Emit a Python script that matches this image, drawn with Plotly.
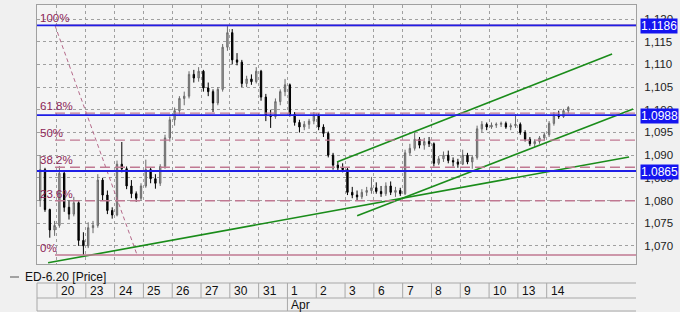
import plotly.graph_objects as go

# ---------------- data ----------------
day_labels = ["20", "23", "24", "25", "26", "27", "30", "31", "1", "2",
              "3", "6", "7", "8", "9", "10", "13", "14"]
month_labels = {8: "Apr"}
bars_per_day = [4] + [6] * 17 + [5]   # first partial day (19 Mar) ... last day 14 Apr

opens = [
    1.0800, 1.0868, 1.0780, 1.0735,
    1.0745, 1.0860, 1.0785, 1.0770, 1.0795, 1.0712,
    1.0700, 1.0740, 1.0745, 1.0845, 1.0812, 1.0778,
    1.0768, 1.0880, 1.0870, 1.0832, 1.0815, 1.0805,
    1.0832, 1.0868, 1.0848, 1.0838, 1.0875, 1.0938,
    1.0978, 1.0998, 1.1025, 1.1030, 1.1078, 1.1070,
    1.1085, 1.1048, 1.1040, 1.1015, 1.1045, 1.1138,
    1.1170, 1.1110, 1.1105, 1.1058, 1.1068, 1.1062,
    1.1085, 1.1028, 1.0988, 1.0985, 1.1018, 1.1040,
    1.1055, 1.0990, 1.0972, 1.0962, 1.0968, 1.0975,
    1.0988, 1.0962, 1.0948, 1.0900, 1.0878, 1.0872,
    1.0868, 1.0818, 1.0812, 1.0808, 1.0818, 1.0822,
    1.0828, 1.0820, 1.0815, 1.0832, 1.0818, 1.0822,
    1.0815, 1.0905, 1.0915, 1.0935, 1.0922, 1.0930,
    1.0925, 1.0882, 1.0892, 1.0900, 1.0888, 1.0885,
    1.0880, 1.0900, 1.0885, 1.0895, 1.0958, 1.0968,
    1.0962, 1.0966, 1.0968, 1.0970, 1.0962, 1.0965,
    1.0968, 1.0950, 1.0935, 1.0925, 1.0930, 1.0938,
    1.0945, 1.0970, 1.0988, 1.0985, 1.0998,
]
highs = [
    1.0900, 1.0872, 1.0782, 1.0755,
    1.0876, 1.0865, 1.0800, 1.0808, 1.0798, 1.0730,
    1.0752, 1.0755, 1.0858, 1.0850, 1.0822, 1.0785,
    1.0888, 1.0929, 1.0875, 1.0845, 1.0820, 1.0838,
    1.0890, 1.0872, 1.0858, 1.0880, 1.0945, 1.0985,
    1.1005, 1.1030, 1.1040, 1.1085, 1.1088, 1.1094,
    1.1088, 1.1060, 1.1045, 1.1050, 1.1145, 1.1186,
    1.1178, 1.1125, 1.1110, 1.1075, 1.1078, 1.1094,
    1.1088, 1.1035, 1.1000, 1.1025, 1.1045, 1.1068,
    1.1058, 1.0995, 1.0978, 1.0975, 1.0980, 1.0995,
    1.0992, 1.0968, 1.0952, 1.0905, 1.0885, 1.0882,
    1.0872, 1.0830, 1.0822, 1.0825, 1.0830, 1.0852,
    1.0840, 1.0832, 1.0840, 1.0842, 1.0830, 1.0828,
    1.0912, 1.0925, 1.0950, 1.0940, 1.0938, 1.0940,
    1.0928, 1.0898, 1.0908, 1.0910, 1.0895, 1.0892,
    1.0912, 1.0905, 1.0900, 1.0965, 1.0975, 1.0972,
    1.0972, 1.0972, 1.0974, 1.0974, 1.0970, 1.0990,
    1.0972, 1.0955, 1.0940, 1.0935, 1.0942, 1.0950,
    1.0975, 1.0995, 1.0998, 1.1002, 1.1008,
]
lows = [
    1.0786, 1.0775, 1.0718, 1.0722,
    1.0740, 1.0775, 1.0758, 1.0765, 1.0700, 1.0680,
    1.0695, 1.0728, 1.0740, 1.0800, 1.0770, 1.0760,
    1.0765, 1.0862, 1.0825, 1.0805, 1.0797, 1.0800,
    1.0828, 1.0838, 1.0826, 1.0832, 1.0870, 1.0930,
    1.0965, 1.0990, 1.1010, 1.1025, 1.1060, 1.1062,
    1.1040, 1.1030, 1.0995, 1.1010, 1.1040, 1.1130,
    1.1100, 1.1098, 1.1050, 1.1050, 1.1055, 1.1058,
    1.1020, 1.0975, 1.0960, 1.0980, 1.1010, 1.1030,
    1.0985, 1.0965, 1.0950, 1.0955, 1.0958, 1.0968,
    1.0955, 1.0940, 1.0895, 1.0868, 1.0865, 1.0862,
    1.0812, 1.0805, 1.0800, 1.0803, 1.0810, 1.0815,
    1.0815, 1.0808, 1.0810, 1.0812, 1.0808, 1.0810,
    1.0812, 1.0900, 1.0910, 1.0915, 1.0912, 1.0918,
    1.0875, 1.0878, 1.0885, 1.0882, 1.0875, 1.0872,
    1.0878, 1.0880, 1.0870, 1.0890, 1.0950, 1.0955,
    1.0958, 1.0960, 1.0962, 1.0958, 1.0955, 1.0960,
    1.0945, 1.0930, 1.0920, 1.0918, 1.0925, 1.0932,
    1.0940, 1.0965, 1.0980, 1.0982, 1.0992,
]
closes = [
    1.0868, 1.0780, 1.0735, 1.0745,
    1.0860, 1.0785, 1.0770, 1.0795, 1.0712, 1.0700,
    1.0740, 1.0745, 1.0845, 1.0812, 1.0778, 1.0768,
    1.0880, 1.0870, 1.0832, 1.0815, 1.0805, 1.0832,
    1.0868, 1.0848, 1.0838, 1.0875, 1.0938, 1.0978,
    1.0998, 1.1025, 1.1030, 1.1078, 1.1070, 1.1085,
    1.1048, 1.1040, 1.1015, 1.1045, 1.1138, 1.1170,
    1.1110, 1.1105, 1.1058, 1.1068, 1.1062, 1.1085,
    1.1028, 1.0988, 1.0985, 1.1018, 1.1040, 1.1055,
    1.0990, 1.0972, 1.0962, 1.0968, 1.0975, 1.0988,
    1.0962, 1.0948, 1.0900, 1.0878, 1.0872, 1.0868,
    1.0818, 1.0812, 1.0808, 1.0818, 1.0822, 1.0828,
    1.0820, 1.0815, 1.0832, 1.0818, 1.0822, 1.0815,
    1.0905, 1.0915, 1.0935, 1.0922, 1.0930, 1.0925,
    1.0882, 1.0892, 1.0900, 1.0888, 1.0885, 1.0880,
    1.0900, 1.0885, 1.0895, 1.0958, 1.0968, 1.0962,
    1.0966, 1.0968, 1.0970, 1.0962, 1.0965, 1.0968,
    1.0950, 1.0935, 1.0925, 1.0930, 1.0938, 1.0945,
    1.0970, 1.0988, 1.0985, 1.0998, 1.1005,
]

fib_high = 1.1186
fib_low = 1.0680
fib_levels = [0.0, 0.236, 0.382, 0.5, 0.618, 1.0]
fib_names = ["0%", "23.6%", "38.2%", "50%", "61.8%", "100%"]
fib_diag_x = [-0.07, 2.78]
fib_diag_y = [1.1186, 1.0680]

blue_levels = [1.1186, 1.0988, 1.0865]
blue_labels = ["1.1186", "1.0988", "1.0865"]

trend_x0 = [-0.31, 9.72, 10.42]
trend_y0 = [1.06626, 1.0885, 1.07661]
trend_x1 = [19.86, 19.27, 20.0]
trend_y1 = [1.0896, 1.11229, 1.10018]

y_ticks = [1.070, 1.075, 1.080, 1.085, 1.090, 1.095, 1.100, 1.105, 1.110, 1.115, 1.120]
y_ticktext = ["1,070", "1,075", "1,080", "1,085", "1,090", "1,095", "1,100",
              "1,105", "1,110", "1,115", "1,120"]

# ---------------- geometry helpers ----------------
W, H = 680, 312
L, R, T, B = 37, 636, 5, 264
X_RANGE = [-0.694, 20.10]
Y_RANGE = [1.0660, 1.1231]
FONT = "Liberation Sans"


def py(pix):
    return (B - pix) / (B - T)


def px(pix):
    return (pix - L) / (R - L)


# bar x positions: day index + slot
bar_x = []
start_day = -1
for d, n in enumerate(bars_per_day):
    day = start_day + d
    first_slot = 6 - n if d == 0 else 0
    for s in range(n):
        bar_x.append(day + (first_slot + s + 0.5) / 6.0)

fig = go.Figure()

fig.add_trace(go.Candlestick(
    x=bar_x, open=opens, high=highs, low=lows, close=closes,
    increasing=dict(line=dict(color="#6a6a6a", width=1), fillcolor="#a8a8a8"),
    decreasing=dict(line=dict(color="#000000", width=1), fillcolor="#000000"),
    whiskerwidth=0, showlegend=False, hoverinfo="skip",
))

# fib diagonal
fig.add_trace(go.Scatter(x=fib_diag_x, y=fib_diag_y, mode="lines",
                         line=dict(color="#b56a8a", width=1, dash="4px,3px"),
                         showlegend=False, hoverinfo="skip"))

# green trend lines
for x0, y0, x1, y1 in zip(trend_x0, trend_y0, trend_x1, trend_y1):
    fig.add_trace(go.Scatter(x=[x0, x1], y=[y0, y1], mode="lines",
                             line=dict(color="#1a8c1a", width=1.6),
                             showlegend=False, hoverinfo="skip"))

shapes = []
annotations = []

# fib horizontal lines
for lvl, name in zip(fib_levels, fib_names):
    val = fib_low + lvl * (fib_high - fib_low)
    solid = lvl in (0.0, 1.0)
    shapes.append(dict(type="line", xref="x", yref="y", x0=-0.07, x1=X_RANGE[1],
                       y0=val, y1=val, layer="above",
                       line=dict(color="#c07892", width=1.3 if not solid else 1.6,
                                 dash="solid" if solid else "10px,5px")))
    annotations.append(dict(xref="paper", yref="y", x=0, y=val, text=name,
                            xanchor="left", yanchor="bottom", xshift=1, yshift=-1,
                            showarrow=False,
                            font=dict(family=FONT, size=11.5, color="#8c2456")))

# blue horizontal lines + right labels
for val, lab in zip(blue_levels, blue_labels):
    shapes.append(dict(type="line", xref="paper", yref="y", x0=0, x1=1,
                       y0=val, y1=val, layer="above",
                       line=dict(color="#1e1ee6", width=1.8)))
    annotations.append(dict(xref="paper", yref="y", x=1, y=val, text=lab,
                            xanchor="left", yanchor="middle", xshift=4, yshift=-1,
                            showarrow=False, bgcolor="#1414f0", borderpad=0,
                            font=dict(family=FONT, size=12, color="#ffffff")))

# legend line
shapes.append(dict(type="line", xref="paper", yref="paper", x0=px(10), x1=px(19),
                   y0=py(277), y1=py(277), line=dict(color="#555555", width=1)))
annotations.append(dict(xref="paper", yref="paper", x=px(23), y=py(277),
                        text="ED-6.20 [Price]", xanchor="left", yanchor="middle",
                        showarrow=False, font=dict(family=FONT, size=12, color="#111111")))

# date table
tbl_col = "#a8a8a8"
for yy in (283, 298, 311):
    shapes.append(dict(type="line", xref="paper", yref="paper", x0=0, x1=1,
                       y0=py(yy), y1=py(yy), line=dict(color=tbl_col, width=1)))
shapes.append(dict(type="line", xref="paper", yref="paper", x0=0, x1=0,
                   y0=py(283), y1=py(311), line=dict(color=tbl_col, width=1)))
for i, lab in enumerate(day_labels):
    y_bot = 311 if i in month_labels else 298
    shapes.append(dict(type="line", xref="x", yref="paper", x0=i, x1=i,
                       y0=py(283), y1=py(y_bot), line=dict(color=tbl_col, width=1)))
    annotations.append(dict(xref="x", yref="paper", x=i, y=py(291), text=lab,
                            xanchor="left", yanchor="middle", xshift=2,
                            showarrow=False, font=dict(family=FONT, size=12, color="#111111")))
for i, lab in month_labels.items():
    annotations.append(dict(xref="x", yref="paper", x=i, y=py(305), text=lab,
                            xanchor="left", yanchor="middle", xshift=2,
                            showarrow=False, font=dict(family=FONT, size=12, color="#111111")))

fig.update_layout(
    width=W, height=H,
    margin=dict(l=L, r=W - R, t=T, b=H - B, pad=0),
    paper_bgcolor="#f0f0f0", plot_bgcolor="#f4f4f4",
    shapes=shapes, annotations=annotations, showlegend=False,
    boxgap=0.6,
    font=dict(family=FONT, size=12, color="#222222"),
    xaxis=dict(range=X_RANGE, tickvals=list(range(len(day_labels))),
               showticklabels=False, ticks="", showgrid=True,
               gridcolor="#a0a0a0", griddash="dot", gridwidth=1,
               showline=True, mirror=True, linecolor="#a0a0a0", linewidth=1,
               zeroline=False, rangeslider=dict(visible=False), fixedrange=True),
    yaxis=dict(range=Y_RANGE, side="right", tickvals=y_ticks, ticktext=y_ticktext,
               ticks="", ticklabelstandoff=5, showgrid=True, gridcolor="#a0a0a0",
               griddash="dot", gridwidth=1, showline=True, mirror=True,
               linecolor="#a0a0a0", linewidth=1, zeroline=False,
               tickfont=dict(family=FONT, size=11.5, color="#222222"), fixedrange=True),
)

fig.write_html("out.html")
